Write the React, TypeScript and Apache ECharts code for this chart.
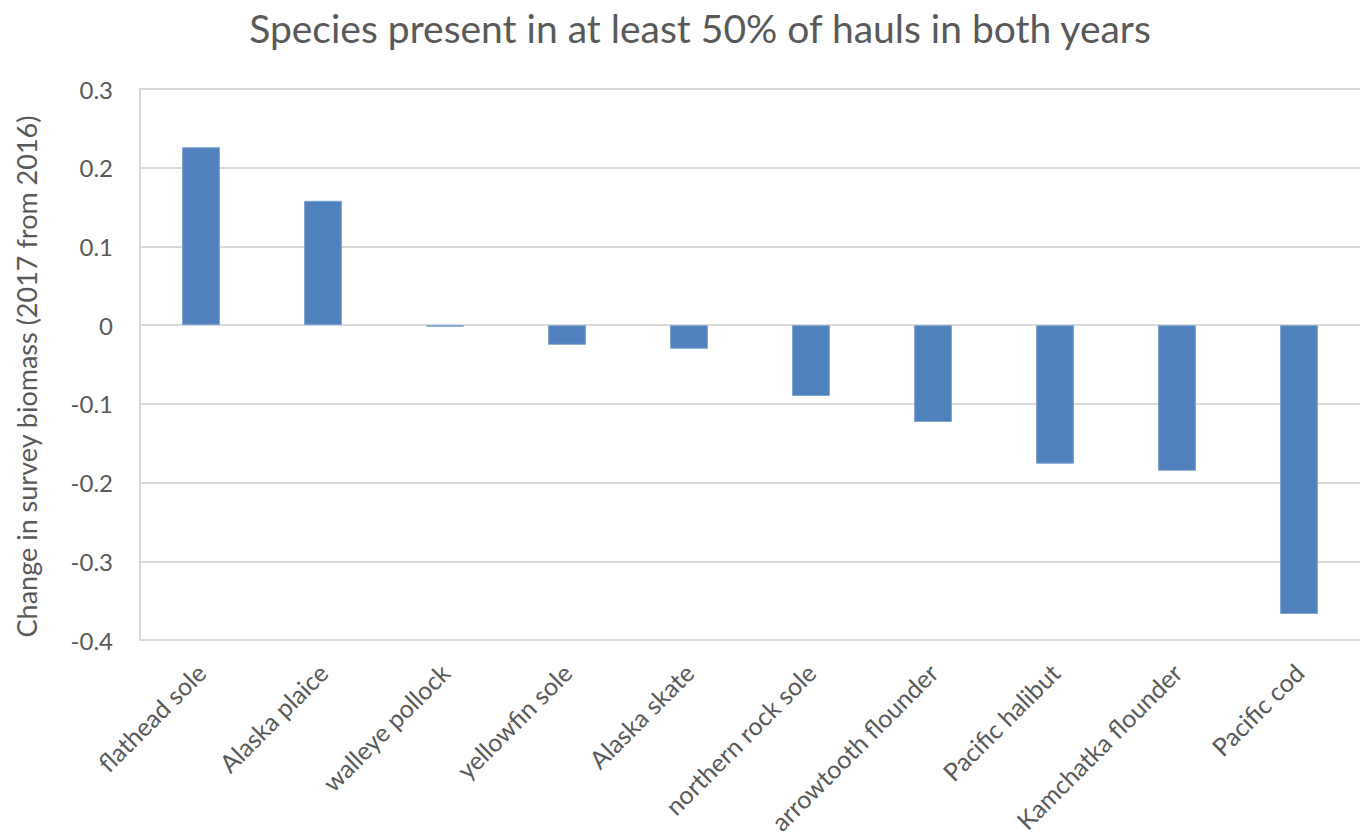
import { useEffect, useRef } from "react";
import * as echarts from "echarts";

const species = [
  "flathead sole",
  "Alaska plaice",
  "walleye pollock",
  "yellowfin sole",
  "Alaska skate",
  "northern rock sole",
  "arrowtooth flounder",
  "Pacific halibut",
  "Kamchatka flounder",
  "Pacific cod",
];
const biomassChange = [0.226, 0.158, -0.002, -0.025, -0.03, -0.09, -0.123, -0.176, -0.185, -0.367];

const TEXT = "#595959";
const FONT = "Lato, 'Open Sans', sans-serif";

export default function App() {
  const el = useRef<HTMLDivElement>(null);

  useEffect(() => {
    if (!el.current) return;
    const chart = echarts.init(el.current, undefined, { renderer: "svg" });
    chart.setOption({
      animation: false,
      backgroundColor: "#ffffff",
      textStyle: { fontFamily: FONT },
      title: {
        text: "Species present in at least 50% of hauls in both years",
        left: 695,
        textAlign: "center",
        top: 3,
        textStyle: { color: TEXT, fontSize: 39, fontWeight: "normal", fontFamily: FONT },
      },
      grid: { left: 140, top: 89, bottom: 199, right: -13, containLabel: false },
      xAxis: {
        type: "category",
        data: species,
        axisLine: { show: false },
        axisTick: { show: false },
        axisLabel: { rotate: 45, color: TEXT, fontSize: 25, margin: 28, interval: 0, fontFamily: FONT },
      },
      yAxis: {
        type: "value",
        min: -0.4,
        max: 0.3,
        interval: 0.1,
        name: "Change in survey biomass (2017 from 2016)",
        nameLocation: "middle",
        nameGap: 100,
        nameTextStyle: { color: TEXT, fontSize: 27, fontFamily: FONT, padding: [0, 24, 0, 0] },
        axisLine: { show: true, lineStyle: { color: "#d9d9d9", width: 2 } },
        axisTick: { show: false },
        axisLabel: {
          color: TEXT,
          fontSize: 24,
          margin: 27,
          fontFamily: FONT,
          formatter: (v: number) => String(Math.round(v * 10) / 10),
        },
        splitLine: { lineStyle: { color: "#d9d9d9", width: 2 } },
      },
      series: [
        {
          type: "bar",
          data: biomassChange,
          barWidth: "31%",
          itemStyle: { color: "#4f81bd", borderColor: "#7fa3cf", borderWidth: 1 },
        },
      ],
    });
    return () => chart.dispose();
  }, []);

  return (
    <div
      ref={el}
      style={{ position: "absolute", left: 0, top: 0, width: 1360, height: 839 }}
    />
  );
}
